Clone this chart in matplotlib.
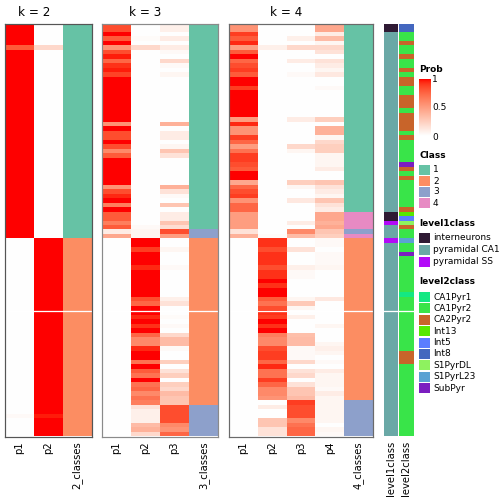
import numpy as np
import matplotlib
matplotlib.use("Agg")
import matplotlib.pyplot as plt
from matplotlib.colors import ListedColormap, to_rgb
from matplotlib.patches import Rectangle

# ---- data (one value per sample row, top to bottom) ----
k2_p1 = [1.0]*5 + [0.8] + [1.0]*42 + [0.0]*39 + [0.03] + [0.0]*4
k2_p2 = [0.0]*5 + [0.2] + [0.0]*42 + [1.0]*39 + [0.97] + [1.0]*4
k2_class = [1]*48 + [2]*44

k3_p1 = ([0.85, 0.85, 1, 0.8, 1, 0.55, 0.85, 0.97, 0.75, 0.93, 0.97, 0.88] + [1.0]*10 +
         [0.55, 1, 0.85, 0.85, 1, 0.85, 0.6, 0.8] + [1.0]*6 +
         [0.55, 0.85, 0.95, 1, 0.65, 1, 0.8, 0.8, 0.65, 0.8, 0.1, 0.45] + [0.0]*44)
k3_p2 = ([0, 0, 0, 0.02, 0, 0.2] + [0.0]*39 + [0.03, 0.05, 0.05] +
         [1, 1, 0.9, 1, 1, 1, 0.95, 1, 1, 1, 1, 1, 1, 0.85, 0.75, 1, 1, 0.95, 1, 0.93, 1,
          0.75, 0.6, 0.6, 0.95, 1, 1, 0.7, 1, 0.8, 0.7, 1, 0.7, 0.75, 0.6, 0.7, 0.65,
          0.15, 0.08, 0.08, 0.08, 0.35, 0.4, 0.2])
k3_p3 = ([0.08, 0.08, 0, 0.1, 0, 0.1, 0.03, 0, 0.2, 0.03, 0, 0.05] + [0.0]*10 +
         [0.4, 0, 0.1, 0.1, 0, 0.05, 0.3, 0.15] + [0.0]*6 +
         [0.4, 0.15, 0.03, 0, 0.3, 0, 0.1, 0.1, 0.3, 0.17, 0.85, 0.5] +
         [0, 0, 0.05, 0, 0, 0, 0.03, 0, 0, 0, 0, 0, 0, 0.08, 0.15, 0, 0, 0.02, 0, 0.03, 0,
          0.2, 0.35, 0.35, 0.03, 0, 0, 0.25, 0, 0.15, 0.25, 0, 0.25, 0.2, 0.35, 0.3, 0.3,
          0.85, 0.85, 0.85, 0.85, 0.6, 0.55, 0.75])
k3_class = [1]*46 + [3]*2 + [2]*37 + [3]*7

k4_p1 = ([0.55, 0.55, 0.9, 0.8, 0.95, 0.5, 0.8, 1, 0.75, 0.85, 0.9, 0.8, 1, 1, 0.9] + [1.0]*6 +
         [0.5, 0.95, 0.55, 0.55, 0.9, 0.75, 0.5, 0.7, 0.9, 0.9, 0.85, 0.8, 1, 1,
          0.45, 0.75, 0.85, 0.9, 0.55, 0.75, 0.75, 0.5, 0.5, 0.5, 0.5, 0.15, 0.4] + [0.0]*44)
k4_p2 = ([0]*5 + [0.08] + [0.0]*41 + [0.02] +
         [0.93, 0.93, 0.85, 0.93, 0.93, 0.93, 0.85, 0.93, 0.93, 1, 0.93, 1, 1, 0.8, 0.7, 0.85,
          0.93, 0.9, 1, 0.93, 1, 0.65, 0.6, 0.6, 0.85, 0.9, 0.9, 0.75, 0.95, 0.7, 0.7, 0.9,
          0.75, 0.6, 0.6, 0.55, 0, 0.1, 0, 0, 0.3, 0.3, 0.15, 0.15])
k4_p3 = ([0, 0, 0, 0.08, 0, 0.2, 0, 0, 0.1, 0, 0, 0.03] + [0.0]*9 +
         [0.1, 0, 0, 0, 0, 0, 0.2, 0.05] + [0.0]*6 +
         [0.25, 0.05, 0, 0, 0.12, 0, 0, 0, 0, 0.1, 0, 0.6, 0.35] +
         [0, 0, 0.15, 0, 0, 0, 0.08, 0.03, 0.03, 0, 0, 0, 0, 0.05, 0.28, 0.05,
          0, 0.08, 0, 0, 0, 0.33, 0.35, 0.35, 0.03, 0.03, 0.03, 0.2, 0, 0.15, 0.2, 0,
          0.15, 0.3, 0.3, 0.35, 0.9, 0.85, 0.85, 0.85, 0.6, 0.7, 0.75, 0.75])
k4_p4 = ([0.45, 0.45, 0.1, 0.35, 0.05, 0.2, 0.15, 0, 0.15, 0.1, 0.05, 0.12, 0, 0, 0.03] + [0.0]*6 +
         [0.25, 0, 0.4, 0.4, 0.05, 0.2, 0.25, 0.25, 0.05, 0.05, 0.05, 0.1, 0, 0,
          0.3, 0.15, 0.1, 0.05, 0.3, 0.15, 0.1, 0.45, 0.45, 0.4, 0.45, 0.3, 0.25] +
         [0.03, 0.03, 0, 0.03, 0.03, 0.03, 0.05, 0, 0, 0, 0, 0, 0, 0.12, 0, 0,
          0, 0, 0, 0.05, 0, 0, 0, 0.05, 0.08, 0.05, 0, 0.03, 0, 0.1, 0.05, 0.05,
          0.05, 0.03, 0.1, 0.05, 0.05, 0.05, 0.05, 0.05, 0.05, 0, 0.05, 0.03])
k4_class = [1]*42 + [4]*4 + [3] + [4] + [2]*36 + [3]*8

level1 = (["interneurons"]*2 + ["pyramidal CA1"]*40 + ["interneurons"]*2 + ["pyramidal SS"] +
          ["pyramidal CA1"]*3 + ["pyramidal SS"] + ["pyramidal CA1"]*43)
level2 = (["Int8"]*2 + ["CA1Pyr2"]*2 + ["CA2Pyr2"] + ["CA1Pyr2"]*2 + ["CA2Pyr2"] + ["CA1Pyr2"]*2 +
          ["CA2Pyr2"] + ["CA1Pyr2"] + ["CA2Pyr2"]*2 + ["CA1Pyr2"]*2 + ["CA2Pyr2"]*3 + ["CA1Pyr2"] +
          ["CA2Pyr2"]*4 + ["CA1Pyr2"] + ["CA2Pyr2"] + ["CA1Pyr2"]*5 + ["SubPyr"] + ["CA2Pyr2"] +
          ["CA1Pyr2"] + ["CA2Pyr2"] + ["CA1Pyr2"]*6 + ["CA2Pyr2"] + ["Int13", "Int5", "S1PyrDL"] +
          ["CA2Pyr2"] + ["CA1Pyr2"]*2 + ["S1PyrL23"] + ["CA1Pyr2"]*2 + ["SubPyr"] + ["CA1Pyr2"]*8 +
          ["CA1Pyr1"] + ["CA1Pyr2"]*12 + ["CA2Pyr2"]*3 + ["CA1Pyr2"]*16)

class_colors = {1: "#66C2A5", 2: "#FC8D62", 3: "#8DA0CB", 4: "#E78AC3"}
level1_colors = {"interneurons": "#2F1A34", "pyramidal CA1": "#6AA8A6", "pyramidal SS": "#B20AF8"}
level2_colors = {"CA1Pyr1": "#14E883", "CA1Pyr2": "#39E449", "CA2Pyr2": "#C8642A", "Int13": "#58E800",
                 "Int5": "#5B7DFF", "Int8": "#4467BF", "S1PyrDL": "#8EF25F", "S1PyrL23": "#5BA2D3",
                 "SubPyr": "#7B1EC0"}
gap_after = 64   # rows are split in two slices here

W, H = 504, 504
N = len(k2_class)


# white -> red ramp interpolated in LAB space (like colorRamp2)
def lab_to_rgb(L, a, b):
    fy = (L + 16) / 116
    fx = fy + a / 500
    fz = fy - b / 200
    finv = lambda t: np.where(t > 6/29, t**3, 3*(6/29)**2*(t - 4/29))
    xyz = np.stack([0.95047*finv(fx), finv(fy), 1.08883*finv(fz)])
    M = np.array([[3.2406, -1.5372, -0.4986], [-0.9689, 1.8758, 0.0415], [0.0557, -0.2040, 1.0570]])
    lin = np.clip(M @ xyz, 0, 1)
    srgb = np.where(lin <= 0.0031308, 12.92*lin, 1.055*lin**(1/2.4) - 0.055)
    return srgb.T


t = np.linspace(0, 1, 256)
prob_cmap = ListedColormap(lab_to_rgb(100 + t*(53.24 - 100), t*80.09, t*67.20))

fig = plt.figure(figsize=(W/72, H/72), dpi=72)


def px_axes(x0, y0, x1, y1):
    return fig.add_axes([x0/W, 1 - y1/H, (x1 - x0)/W, (y1 - y0)/H])


top, bottom = 24, 436.5


def draw_block(x0, x1, probs, classes, labels, title=None, border="#8a8a8a"):
    ax = px_axes(x0, top, x1, bottom)
    cols = [prob_cmap(np.array(p))[:, :3] for p in probs]
    cols.append(np.array([to_rgb(class_colors[c]) for c in classes]))
    img = np.stack(cols, axis=1)
    ax.imshow(img, aspect="auto", interpolation="nearest", extent=(0, len(cols), N, 0))
    ax.axhline(gap_after, color="white", lw=1.3)
    ax.set_xticks([])
    ax.set_yticks([])
    for s in ax.spines.values():
        s.set_color(border)
        s.set_linewidth(1.2)
    cw = (x1 - x0) / len(cols)
    for i, lab in enumerate(labels):
        fig.text((x0 + cw*(i + 0.5))/W, 1 - 441/H, lab, rotation=90, ha="center", va="top", fontsize=10)
    # title is centred over the probability columns
    fig.text((x0 + cw*len(probs)/2)/W, 1 - 12/H, title, ha="center", va="center", fontsize=12)
    return ax


draw_block(5, 91.5, [k2_p1, k2_p2], k2_class, ["p1", "p2", "2_classes"], "k = 2", border="#555555")
draw_block(102, 218, [k3_p1, k3_p2, k3_p3], k3_class, ["p1", "p2", "p3", "3_classes"], "k = 3")
draw_block(229, 373, [k4_p1, k4_p2, k4_p3, k4_p4], k4_class,
           ["p1", "p2", "p3", "p4", "4_classes"], "k = 4", border="#6a6a6a")

# row annotations
for (x0, x1, vals, cmap_d, lab) in [(384, 398, level1, level1_colors, "level1class"),
                                     (399, 414, level2, level2_colors, "level2class")]:
    ax = px_axes(x0, top, x1, bottom)
    img = np.array([to_rgb(cmap_d[v]) for v in vals])[:, None, :]
    ax.imshow(img, aspect="auto", interpolation="nearest", extent=(0, 1, N, 0))
    ax.axhline(gap_after, color="white", lw=1.3)
    ax.axis("off")
    fig.text((x0 + x1)/2/W, 1 - 441/H, lab, rotation=90, ha="center", va="top", fontsize=10)

# legends drawn in pixel coordinates
lg = fig.add_axes([0, 0, 1, 1], facecolor="none")
lg.set_xlim(0, W)
lg.set_ylim(H, 0)
lg.axis("off")

lx = 419
lg.text(lx, 70, "Prob", fontsize=9, fontweight="bold", va="center")
cb = px_axes(lx, 79, lx + 11, 136)
cb.imshow(np.linspace(1, 0, 100)[:, None], cmap=prob_cmap, aspect="auto", extent=(0, 1, 0, 1), vmin=0, vmax=1)
cb.set_xlim(0, 1)
cb.set_ylim(0, 1)
cb.axis("off")
for v in [1, 0.5, 0]:
    yy = 136 - v*(136 - 79) + (1 if v == 1 else 0)
    if v > 0:
        lg.plot([lx, lx + 2.5], [yy, yy], color="white", lw=0.8)
        lg.plot([lx + 8.5, lx + 11], [yy, yy], color="white", lw=0.8)
    lg.text(lx + 13, yy + (1 if v == 0 else 0), f"{v:g}", fontsize=9, va="center")


def legend_group(title, ty, items, colors, y0, step):
    lg.text(lx, ty, title, fontsize=9, fontweight="bold", va="center")
    for i, it in enumerate(items):
        yc = y0 + i*step
        lg.add_patch(Rectangle((lx, yc - 5), 11, 10, facecolor=colors[it], edgecolor="none"))
        lg.text(lx + 14, yc, str(it), fontsize=9, va="center")


legend_group("Class", 155, [1, 2, 3, 4], class_colors, 170, 11)
legend_group("level1class", 223, list(level1_colors), level1_colors, 238, 12)
legend_group("level2class", 282, list(level2_colors), level2_colors, 297, 11.4)

fig.savefig("out.png", dpi=72)
